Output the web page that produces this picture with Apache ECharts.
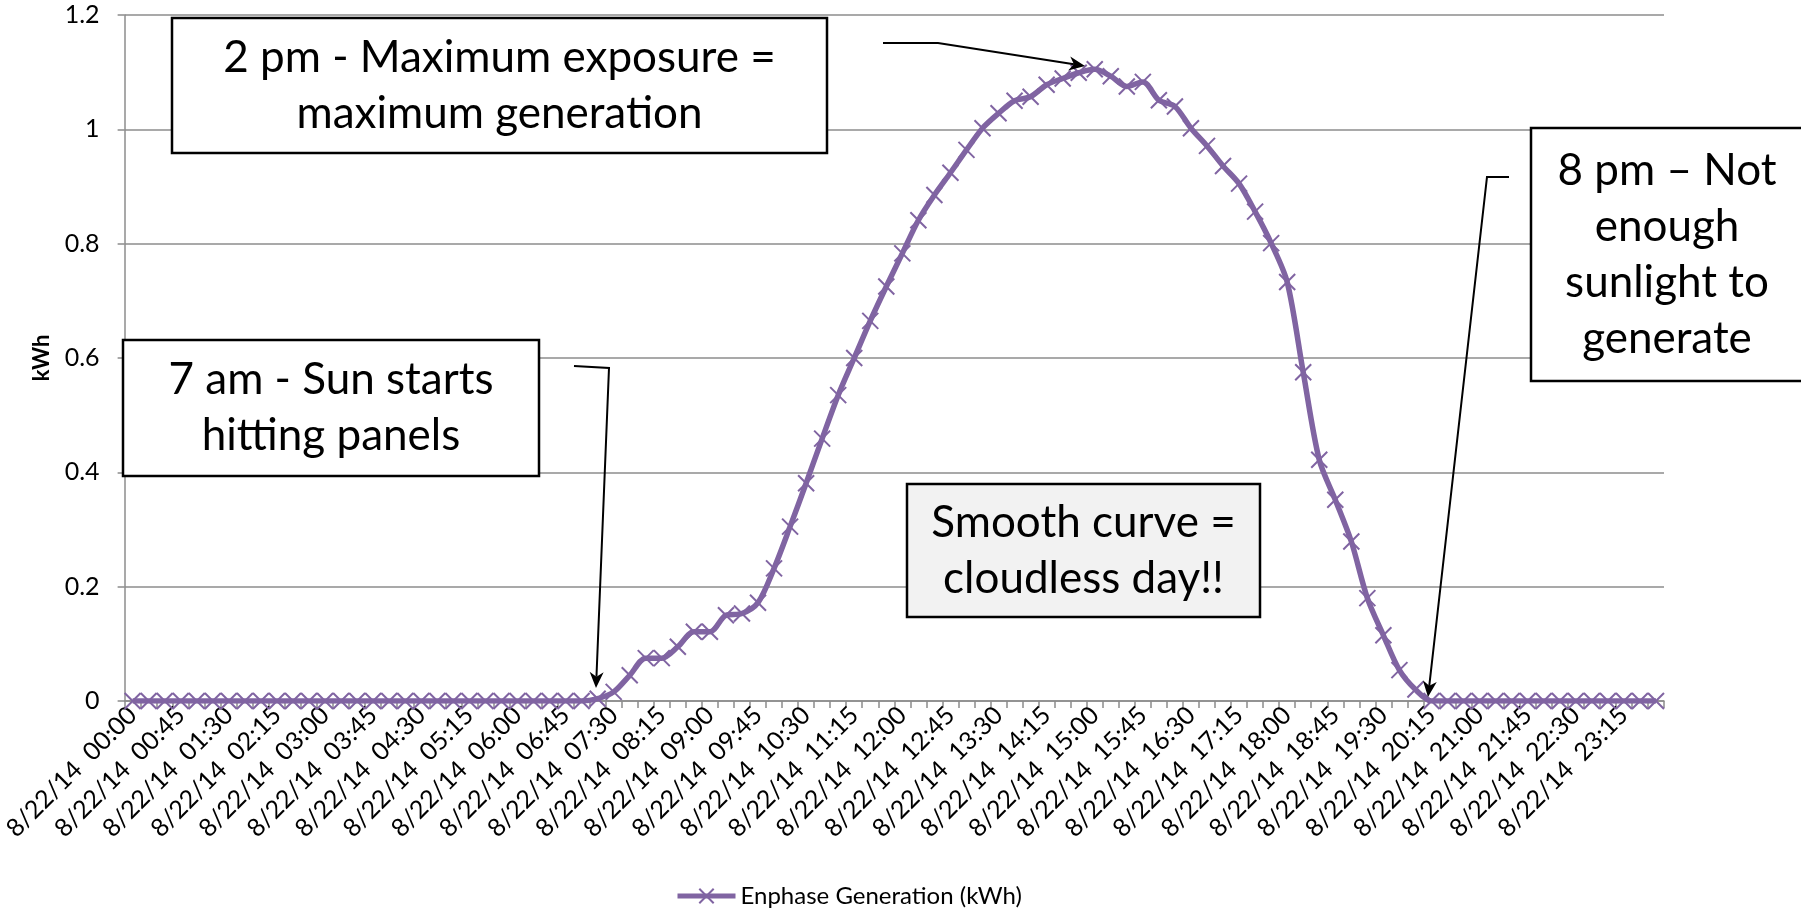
<!DOCTYPE html>
<html><head><meta charset="utf-8">
<script src="https://cdn.jsdelivr.net/npm/echarts@6/dist/echarts.min.js"></script>
<style>html,body{margin:0;padding:0;background:#fff}#c{width:1801px;height:910px}</style>
</head><body><div id="c"></div>
<script>
// ---- data ----
const datePrefix = '8/22/14';
const timeSlots = [];
for (let h = 0; h < 24; h++) for (let m = 0; m < 60; m += 15)
  timeSlots.push(String(h).padStart(2, '0') + ':' + String(m).padStart(2, '0'));
const categories = timeSlots.map(t => datePrefix + '  ' + t);

const generation = [
  0,0,0,0,0,0,0,0,0,0,          // 00:00 - 02:15
  0,0,0,0,0,0,0,0,0,0,          // 02:30 - 04:45
  0,0,0,0,0,0,0,0,0,            // 05:00 - 07:00
  0.004, 0.016, 0.045, 0.075, 0.075, 0.095, 0.121, 0.121, 0.150, 0.153, // 07:15 - 09:30
  0.172, 0.232, 0.305, 0.381, 0.459, 0.535, 0.600, 0.665, 0.725, 0.783, // 09:45 - 12:00
  0.841, 0.885, 0.924, 0.964, 1.002, 1.028, 1.050, 1.057, 1.078, 1.089, // 12:15 - 14:30
  1.099, 1.105, 1.093, 1.075, 1.083, 1.051, 1.040, 1.002, 0.971, 0.936, // 14:45 - 17:00
  0.905, 0.856, 0.801, 0.733, 0.575, 0.422, 0.352, 0.279, 0.180, 0.115, // 17:15 - 19:30
  0.054, 0.020, 0,                                                      // 19:45 - 20:15
  0,0,0,0,0,0,0,0,0,0,0,0,0,0                                           // 20:30 - 23:45
];
const seriesName = 'Enphase Generation (kWh)';
const yMin = 0, yMax = 1.2, yStep = 0.2;

const annotations = [
  { lines: ['2 pm - Maximum exposure =', 'maximum generation'], box: [172, 18, 655, 135], fill: '#ffffff',
    arrow: [[883, 43], [938, 43], [1085, 66]] },
  { lines: ['7 am - Sun starts', 'hitting panels'], box: [123, 340, 416, 136], fill: '#ffffff',
    arrow: [[574, 366], [609, 368], [596, 688]] },
  { lines: ['Smooth curve =', 'cloudless day!!'], box: [907, 484, 353, 133], fill: '#f2f2f2', arrow: null },
  { lines: ['8 pm \u2013 Not', 'enough', 'sunlight to', 'generate'], box: [1531, 128, 272, 253], fill: '#ffffff',
    arrow: [[1509, 177], [1487, 177], [1428, 697]] }
];

// ---- chart ----
const FONT = 'Lato, "Open Sans", sans-serif';
const PURPLE = '#8064A2';
const GRIDC = '#8c8c8c';

function arrowHead(p1, p2, len, half) {
  const dx = p2[0] - p1[0], dy = p2[1] - p1[1];
  const d = Math.hypot(dx, dy), ux = dx / d, uy = dy / d;
  const bx = p2[0] - ux * len, by = p2[1] - uy * len;
  const nx = p2[0] - ux * len * 0.7, ny = p2[1] - uy * len * 0.7;
  return [p2, [bx - uy * half, by + ux * half], [nx, ny], [bx + uy * half, by - ux * half]];
}

const graphics = [];
annotations.forEach(a => {
  const [x, y, w, h] = a.box;
  graphics.push({ type: 'rect', z: 100, shape: { x, y, width: w, height: h },
    style: { fill: a.fill, stroke: '#000', lineWidth: 2.5 } });
  graphics.push({ type: 'text', z: 101, x: x + w / 2, y: y + h / 2,
    style: { text: a.lines.join('\n'), fill: '#000', font: '44px ' + FONT, lineHeight: 56,
      align: 'center', verticalAlign: 'middle' } });
  if (a.arrow) {
    const pts = a.arrow;
    const n = pts.length;
    const head = arrowHead(pts[n - 2], pts[n - 1], 16, 7);
    const stop = [(head[2][0]), (head[2][1])];
    graphics.push({ type: 'polyline', z: 100, shape: { points: pts.slice(0, n - 1).concat([stop]) },
      style: { stroke: '#000', lineWidth: 2, fill: null } });
    graphics.push({ type: 'polygon', z: 100, shape: { points: head }, style: { fill: '#000' } });
  }
});

const chart = echarts.init(document.getElementById('c'), null, { renderer: 'canvas' });
chart.setOption({
  animation: false,
  backgroundColor: '#fff',
  grid: { left: 114, right: 137, top: 15, bottom: 209 },
  legend: {
    data: [seriesName], left: 670, top: 879, itemWidth: 58, itemHeight: 18, itemGap: 4,
    lineStyle: { width: 5, color: PURPLE },
    textStyle: { fontFamily: FONT, fontSize: 24, color: '#000' }
  },
  xAxis: {
    type: 'category', data: categories, boundaryGap: true,
    axisLine: { lineStyle: { color: GRIDC, width: 1.5 } },
    axisTick: { show: true, interval: 0, length: 7, lineStyle: { color: GRIDC, width: 1.5 } },
    axisLabel: { interval: 2, rotate: 45, color: '#000', fontFamily: FONT, fontSize: 25, margin: 10 },
    splitLine: { show: false }
  },
  yAxis: {
    type: 'value', min: yMin, max: yMax, interval: yStep,
    name: 'kWh', nameLocation: 'middle', nameGap: 72, nameRotate: 90,
    nameTextStyle: { fontFamily: FONT, fontSize: 22, fontWeight: 'bold', color: '#000' },
    axisLine: { show: true, lineStyle: { color: GRIDC, width: 1.5 } },
    axisTick: { show: true, length: 7, lineStyle: { color: GRIDC, width: 1.5 } },
    axisLabel: { color: '#000', fontFamily: FONT, fontSize: 25, margin: 25 },
    splitLine: { show: true, lineStyle: { color: GRIDC, width: 1.5 } }
  },
  series: [{
    name: seriesName, type: 'line', data: generation, smooth: 0.3,
    symbol: 'path://M0,0L10,10M10,0L0,10', symbolSize: 16, showSymbol: true, showAllSymbol: true,
    lineStyle: { color: PURPLE, width: 5.5 },
    itemStyle: { color: PURPLE, borderColor: PURPLE, borderWidth: 2 },
    z: 3
  }],
  graphic: graphics
});
</script>
</body></html>
